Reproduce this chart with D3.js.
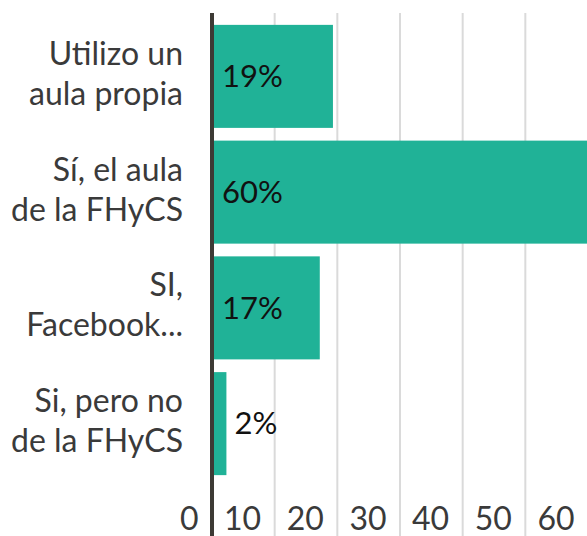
<!DOCTYPE html>
<html>
<head>
<meta charset="utf-8">
<script src="https://cdn.jsdelivr.net/npm/d3@7"></script>
<style>
    body { margin: 0; background: #fff; }
    svg { display: block; font-family: Lato, sans-serif; }
</style>
</head>
<body>
<div class="bar-chart-container"></div>
<script>
const categories = [
    ['Utilizo un', 'aula propia'],
    ['Sí, el aula', 'de la FHyCS'],
    ['SI,', 'Facebook...'],
    ['Si, pero no', 'de la FHyCS']
];
const values = [19.3, 60.2, 17.2, 2.3];
const valueLabels = ['19%', '60%', '17%', '2%'];
const ticks = [0, 10, 20, 30, 40, 50, 60];

const svg_width = 587;
const svg_height = 536;

const svg = d3.select('.bar-chart-container')
    .append('svg')
    .attr('width', svg_width)
    .attr('height', svg_height);

const xScale = d3.scaleLinear([0, 60], [212, 588]);
const yScale = d3.scaleBand()
    .domain(d3.range(categories.length))
    .range([18.5, 481.5])
    .paddingInner(0.11)
    .paddingOuter(0.055);

// grid
svg.append('g')
    .selectAll('line')
    .data(ticks.slice(1))
    .join('line')
    .attr('x1', d => xScale(d))
    .attr('x2', d => xScale(d))
    .attr('y1', 13)
    .attr('y2', svg_height)
    .style('stroke', '#dadada')
    .style('stroke-width', 2);

// bars
svg.append('g')
    .selectAll('rect')
    .data(values)
    .join('rect')
    .attr('x', xScale(0))
    .attr('y', (d, i) => yScale(i))
    .attr('width', d => xScale(d) - xScale(0))
    .attr('height', yScale.bandwidth())
    .style('fill', '#20b297');

// zero line
svg.append('line')
    .attr('x1', xScale(0))
    .attr('x2', xScale(0))
    .attr('y1', 13)
    .attr('y2', svg_height)
    .style('stroke', '#3d3a35')
    .style('stroke-width', 4);

// value labels
svg.append('g')
    .selectAll('text')
    .data(values)
    .join('text')
    .attr('x', d => (xScale(d) - xScale(0) > 80 ? xScale(0) + 10 : xScale(d) + 8))
    .attr('y', (d, i) => yScale(i) + yScale.bandwidth() / 2)
    .attr('dy', '0.35em')
    .style('font-size', '31px')
    .style('fill', '#111')
    .text((d, i) => valueLabels[i]);

// category labels
const catLabels = svg.append('g')
    .selectAll('text')
    .data(categories)
    .join('text')
    .attr('text-anchor', 'end')
    .attr('y', (d, i) => yScale(i) + yScale.bandwidth() / 2)
    .style('font-size', '32px')
    .style('fill', '#3a3a3a');
catLabels.selectAll('tspan')
    .data(d => d)
    .join('tspan')
    .attr('x', 183)
    .attr('dy', (d, i) => (i === 0 ? -11.5 : 40))
    .text(d => d);

// x axis labels
const xAxis = d3.axisBottom(xScale)
    .tickValues(ticks)
    .tickSize(0)
    .tickPadding(0);
const xAxisDraw = svg.append('g')
    .attr('transform', 'translate(0,500)')
    .call(xAxis);
xAxisDraw.select('.domain').remove();
xAxisDraw.selectAll('text')
    .attr('text-anchor', 'end')
    .attr('dx', '-14')
    .attr('dy', '0')
    .attr('y', 30)
    .style('font-family', 'Lato, sans-serif')
    .style('font-size', '32px')
    .style('fill', '#3a3a3a');
</script>
</body>
</html>
